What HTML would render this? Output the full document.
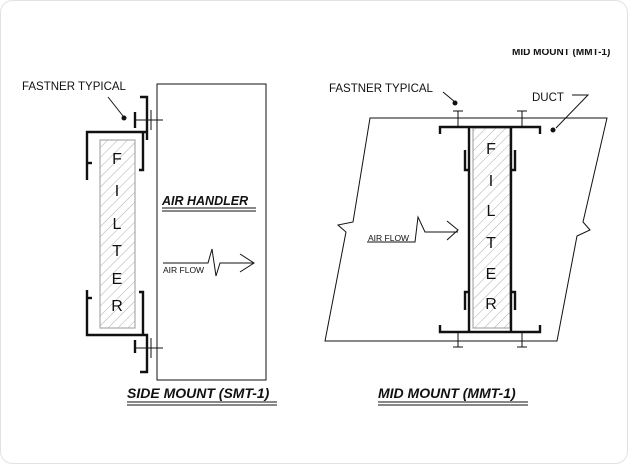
<!DOCTYPE html>
<html><head><style>
html,body{margin:0;padding:0;background:#fff;}
svg{display:block;}
text{font-family:"Liberation Sans",Arial,sans-serif;fill:#111;}
</style></head><body>
<svg width="628" height="464" viewBox="0 0 628 464" xmlns="http://www.w3.org/2000/svg">
<defs>
<pattern id="h" width="7" height="7" patternUnits="userSpaceOnUse" patternTransform="rotate(45)">
<line x1="0" y1="0" x2="0" y2="7" stroke="#999" stroke-width="0.8"/>
</pattern>
<clipPath id="cl"><rect x="500" y="49" width="120" height="8"/></clipPath>
</defs>
<rect x="0.5" y="0.5" width="627" height="463" rx="12" fill="#fff" stroke="#e2e2e2"/>
<text x="512" y="55" font-size="10" font-weight="bold" fill="#333" clip-path="url(#cl)">MID MOUNT (MMT-1)</text>

<!-- LEFT -->
<g fill="none" stroke="#111">
<rect x="157" y="84" width="109" height="296" stroke-width="1"/>
<rect x="100" y="140" width="35" height="188" fill="url(#h)" stroke="#aaa" stroke-width="1.2"/>
<g stroke-width="2.4">
<path d="M140 97 H147 V140"/>
<path d="M87 180 V132 H147"/>
<path d="M92 163 H87"/>
<path d="M139 170 H143 V132"/>
<path d="M87 290 V335 H147 V372 H140"/>
<path d="M92 298 H87"/>
<path d="M139 292 H143 V335"/>
<path d="M135 112 V128"/>
<path d="M135 353 V340"/>
</g>
<g stroke-width="1">
<path d="M135 120 H163 M151 110 V130"/>
<path d="M135 348 H163 M151 338 V358"/>
<path d="M108 97 L123 116"/>
<path d="M163 263 H208 L212 249 L216 276 L220 263 H254"/>
<path d="M240 254 L254 263 L240 272"/>
<path d="M162 208 H256 M162 211 H256"/>
<path d="M127 402 H277 M127 405 H277"/>
</g>
</g>
<circle cx="124" cy="118" r="2.5" fill="#111"/>
<text x="22" y="90" font-size="11.5">FASTNER TYPICAL</text>
<g font-size="16" text-anchor="middle">
<text x="117" y="164">F</text><text x="117" y="196">I</text><text x="117" y="229">L</text>
<text x="117" y="256">T</text><text x="117" y="284">E</text><text x="117" y="311">R</text>
</g>
<text x="162" y="205" font-size="12.5" font-weight="bold" font-style="italic">AIR HANDLER</text>
<text x="163" y="273" font-size="8.5">AIR FLOW</text>
<text x="127" y="398" font-size="14" font-weight="bold" font-style="italic">SIDE MOUNT (SMT-1)</text>

<!-- RIGHT -->
<g fill="none" stroke="#111">
<path d="M370 118 H607 L583 222 L590 230 L577 236 L557 341 H325 L346 232 L338 225 L353 222 Z" stroke-width="1"/>
<rect x="473" y="128" width="37" height="200" fill="url(#h)" stroke="#aaa" stroke-width="1.2"/>
<g stroke-width="2.4">
<path d="M440 134 V127 H540 V134"/>
<path d="M440 325 V332 H540 V325"/>
<path d="M469 127 V332 M511 127 V332"/>
<path d="M465 150 V170 H469"/>
<path d="M515 150 V170 H511"/>
<path d="M465 310 V292 H469"/>
<path d="M515 310 V292 H511"/>
</g>
<g stroke-width="1">
<path d="M458 111 V127 M453 111 H463 M522 111 V127 M517 111 H527"/>
<path d="M458 332 V347 M453 347 H463 M522 332 V347 M517 347 H527"/>
<path d="M443 92 L455 102"/>
<path d="M572 95 H588 L556 128"/>
<path d="M367 242 H415 L418 217 L425 232 H458"/>
<path d="M447 221 L458 230 L447 240"/>
<path d="M378 402 H528 M378 405 H528"/>
</g>
</g>
<circle cx="455" cy="103" r="2.5" fill="#111"/>
<circle cx="553" cy="130" r="2.5" fill="#111"/>
<text x="329" y="92" font-size="11.5">FASTNER TYPICAL</text>
<text x="532" y="101" font-size="11.5">DUCT</text>
<g font-size="16" text-anchor="middle">
<text x="491" y="154">F</text><text x="491" y="186">I</text><text x="491" y="216">L</text>
<text x="491" y="248">T</text><text x="491" y="279">E</text><text x="491" y="309">R</text>
</g>
<text x="368" y="241" font-size="8.5">AIR FLOW</text>
<text x="378" y="398" font-size="14" font-weight="bold" font-style="italic">MID MOUNT (MMT-1)</text>
</svg>
</body></html>
